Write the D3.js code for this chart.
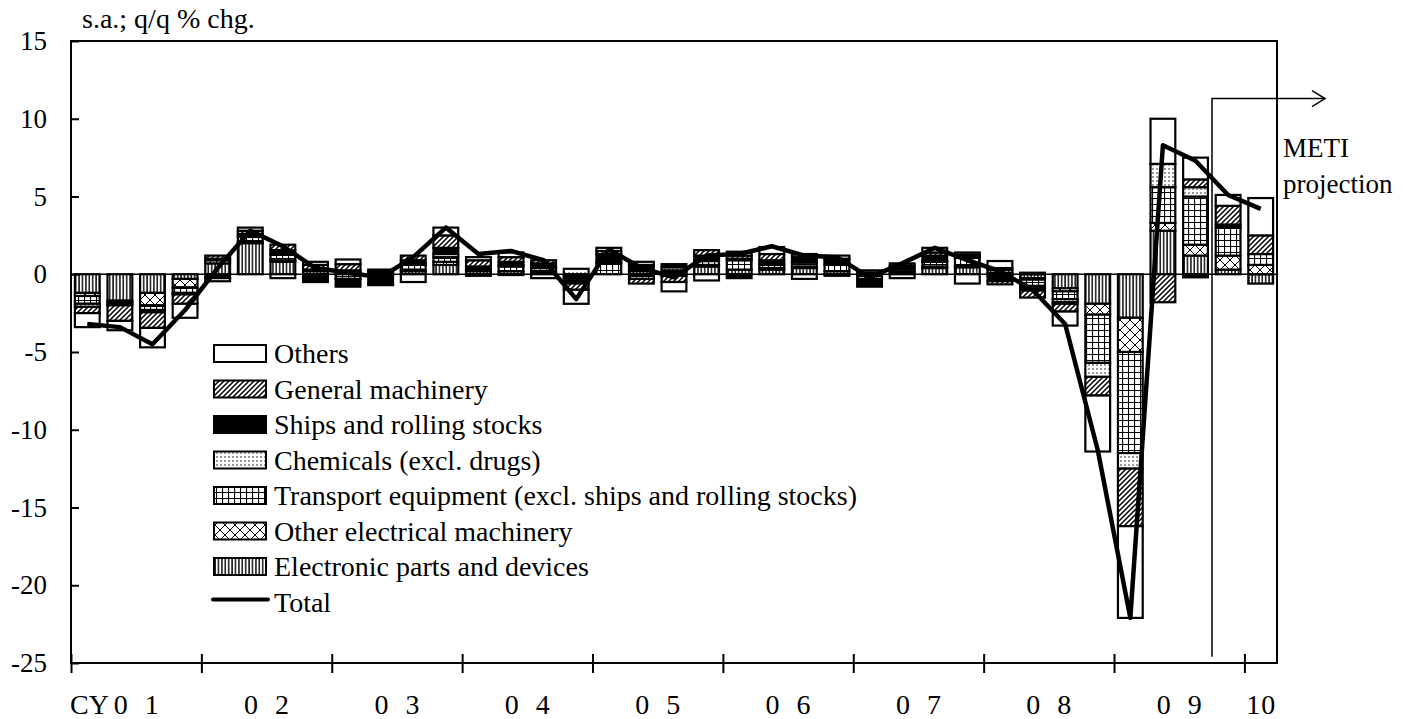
<!DOCTYPE html>
<html><head><meta charset="utf-8">
<script src="https://cdn.jsdelivr.net/npm/d3@7/dist/d3.min.js"></script>
<style>
body{margin:0;background:#fff;}
svg text{font-family:"Liberation Serif","Times New Roman",serif;fill:#000;}
</style></head>
<body><svg id="c" width="1407" height="719"></svg>
<script>
const quarters = ["01Q1","01Q2","01Q3","01Q4","02Q1","02Q2","02Q3","02Q4","03Q1","03Q2","03Q3","03Q4","04Q1","04Q2","04Q3","04Q4","05Q1","05Q2","05Q3","05Q4","06Q1","06Q2","06Q3","06Q4","07Q1","07Q2","07Q3","07Q4","08Q1","08Q2","08Q3","08Q4","09Q1","09Q2","09Q3","09Q4","10Q1"];
const electronic = [-1.2,-1.7,-1.2,-0.3,0.7,2.0,0.8,0.2,0.1,0.1,0.2,0.6,0.2,0.2,0.1,-0.15,0,0.2,0.15,0.5,0.3,0.3,0.4,0.2,-0.1,0.1,0.4,0.45,0.1,-0.25,-0.9,-1.9,-2.8,2.8,1.2,0.3,-0.6];
const otherElec = [-0.2,-0.1,-0.8,-0.55,0,0.1,0.1,0,0,0,0.1,0.2,0,-0.05,0.1,-0.1,0,-0.1,-0.1,0.1,0,0.1,0.1,-0.1,0,0,0.1,0.1,-0.1,-0.1,-0.2,-0.7,-2.2,0.5,0.7,0.9,0.6];
const transport = [-0.5,-0.1,-0.3,-0.35,0.2,0.3,0.35,0.1,-0.3,0.1,0.3,0.3,0.1,0.3,0.2,-0.15,0.7,-0.2,0.1,0.25,0.6,0.2,0.25,0.4,-0.2,0.1,0.3,0.5,0.2,-0.4,-0.5,-3.1,-6.5,2.3,3.1,1.8,0.7];
const chemicals = [-0.2,-0.1,-0.15,-0.1,0.1,0.1,0.1,-0.15,0.15,0,0.1,0.2,-0.1,0.1,0.1,0.35,0.1,0,0.2,0.1,0.1,0.1,0.1,0.1,0,0.15,0.1,0.1,0.1,-0.1,-0.2,-0.9,-1.0,1.5,0.6,0,0];
const ships = [0,0,0,0,-0.25,0.1,0.2,-0.35,-0.5,-0.6,0.2,0.4,0.2,0.2,0.2,-0.2,0.5,0.4,0.2,0.25,-0.25,0.2,0.25,0.2,-0.5,0.2,0.3,0.1,-0.35,-0.2,-0.1,0,0,0,-0.2,0.2,0];
const general = [-0.4,-1.0,-1.0,-0.6,0.2,0.2,0.35,0.3,0.4,0.1,0.3,0.8,0.4,0.3,0.2,-0.4,0.2,-0.3,-0.4,0.35,0.2,0.4,0.2,0.1,0.1,0.15,0.2,0.15,-0.2,-0.45,-0.5,-1.2,-3.7,-1.8,0.5,1.2,1.2];
const others = [-0.9,-0.6,-1.25,-0.9,-0.2,0.2,-0.25,0.2,0.3,-0.1,-0.5,0.5,0.2,0.3,-0.25,-0.9,0.2,0.2,-0.6,-0.4,0.25,0.45,-0.3,0.2,0.15,-0.25,0.3,-0.6,0.45,0.1,-0.9,-3.6,-5.9,2.9,1.4,0.7,2.4];
const total = [-3.2,-3.4,-4.5,-2.3,0.4,2.8,1.8,0.4,0.1,-0.2,1.1,3.0,1.3,1.5,0.9,-1.6,1.6,0.4,-0.2,1.2,1.3,1.8,1.2,1.1,-0.2,0.7,1.7,0.9,0.2,-1.0,-3.2,-11.3,-22.1,8.3,7.3,5.1,4.2];
const yearLabels = ["0\u00a0\u00a01","0\u00a0\u00a02","0\u00a0\u00a03","0\u00a0\u00a04","0\u00a0\u00a05","0\u00a0\u00a06","0\u00a0\u00a07","0\u00a0\u00a08","0\u00a0\u00a09","10"];
const yTicks = [15,10,5,0,-5,-10,-15,-20,-25];
const seriesNames = ["Electronic parts and devices","Other electrical machinery","Transport equipment (excl. ships and rolling stocks)","Chemicals (excl. drugs)","Ships and rolling stocks","General machinery","Others"];
const seriesValues = [electronic, otherElec, transport, chemicals, ships, general, others];
const patternIds = ["pVert","pCross","pGrid","pDots","pSolid","pDiag","pWhite"];

const svg = d3.select("#c");
const L = 71, R = 1277, T = 41, B = 663;
const x = d3.scaleBand().domain(quarters).range([L, R]).paddingInner(0.24).paddingOuter(0.12);
const xq = d3.scaleLinear().domain([0, quarters.length]).range([L, R]);
const y = d3.scaleLinear().domain([-25, 15]).range([B, T]);

// patterns
const defs = svg.append("defs");
function pat(id, w, h, draw) {
  const p = defs.append("pattern").attr("id", id).attr("patternUnits", "userSpaceOnUse").attr("width", w).attr("height", h);
  p.append("rect").attr("width", w).attr("height", h).attr("fill", "#fff");
  draw(p);
}
pat("pWhite", 4, 4, p => {});
pat("pSolid", 4, 4, p => p.append("rect").attr("width", 4).attr("height", 4).attr("fill", "#000"));
pat("pVert", 3.4, 4, p => p.append("line").attr("x1", 0.9).attr("x2", 0.9).attr("y1", 0).attr("y2", 4).attr("stroke", "#000").attr("stroke-width", 1.4));
pat("pDiag", 5, 5, p => p.append("path").attr("d", "M-1,1 L1,-1 M0,5 L5,0 M4,6 L6,4").attr("stroke", "#000").attr("stroke-width", 1.5));
pat("pGrid", 6, 6, p => p.append("path").attr("d", "M0,0.5 H6 M0.5,0 V6").attr("stroke", "#000").attr("stroke-width", 1.2));
pat("pCross", 10, 10, p => p.append("path").attr("d", "M0,0 L10,10 M10,0 L0,10").attr("stroke", "#000").attr("stroke-width", 1));
pat("pDots", 4, 4, p => p.append("circle").attr("cx", 1).attr("cy", 1).attr("r", 0.75).attr("fill", "#000"));

// stack
const rows = quarters.map((q, i) => { const o = {q}; seriesValues.forEach((s, k) => o["s" + k] = s[i]); return o; });
const keys = seriesValues.map((s, k) => "s" + k);
const stacked = d3.stack().keys(keys).offset(d3.stackOffsetDiverging)(rows);

stacked.forEach((layer, k) => {
  svg.append("g").selectAll("rect").data(layer.filter(d => d[1] - d[0] !== 0)).join("rect")
    .attr("x", d => x(d.data.q)).attr("width", x.bandwidth())
    .attr("y", d => y(Math.max(d[0], d[1]))).attr("height", d => Math.abs(y(d[0]) - y(d[1])))
    .attr("fill", "url(#" + patternIds[k] + ")").attr("stroke", "#000").attr("stroke-width", 2.2);
});

// zero line
svg.append("line").attr("x1", L).attr("x2", R).attr("y1", y(0)).attr("y2", y(0)).attr("stroke", "#000").attr("stroke-width", 1.5);

// total line
const line = d3.line().x((d, i) => x(quarters[i]) + x.bandwidth() / 2).y(d => y(d));
svg.append("path").datum(total).attr("d", line).attr("fill", "none").attr("stroke", "#000").attr("stroke-width", 4.5).attr("stroke-linejoin", "round");

// frame
svg.append("rect").attr("x", L).attr("y", T).attr("width", R - L).attr("height", B - T).attr("fill", "none").attr("stroke", "#000").attr("stroke-width", 2);

// y axis
const yAxis = d3.axisLeft(y).tickValues(yTicks).tickSize(-8).tickPadding(24).tickFormat(d => String(d));
const gy = svg.append("g").attr("transform", `translate(${L},0)`).call(yAxis);
gy.select(".domain").remove();
gy.selectAll("line").attr("stroke", "#000").attr("stroke-width", 2);
gy.selectAll("text").attr("font-size", 27).attr("font-family", "Liberation Serif").attr("fill", "#000");

// x ticks at year boundaries
const yearTickPos = d3.range(0, 10).map(i => i * 4);
const xAxisTicks = d3.axisBottom(xq).tickValues(yearTickPos).tickSize(10).tickFormat("");
const gx = svg.append("g").attr("transform", `translate(0,${B})`).call(xAxisTicks);
gx.select(".domain").remove();
gx.selectAll("line").attr("stroke", "#000").attr("stroke-width", 2).attr("y1", -9);

// year labels
const labelPos = d3.range(0, 10).map(i => i < 9 ? i * 4 + 2 : 36.5);
const xAxisLabels = d3.axisBottom(xq).tickValues(labelPos).tickSize(0).tickPadding(31)
  .tickFormat((d, i) => yearLabels[i]);
const gl = svg.append("g").attr("transform", `translate(0,${B})`).call(xAxisLabels);
gl.select(".domain").remove();
gl.selectAll("text").attr("font-size", 28).attr("font-family", "Liberation Serif").attr("fill", "#000")
  .attr("letter-spacing", 1);
svg.append("text").attr("x", 70).attr("y", 714).attr("font-size", 28).text("CY");

// title
svg.append("text").attr("x", 82).attr("y", 28).attr("font-size", 28).text("s.a.; q/q % chg.");

// projection bracket
const px = 1212;
svg.append("path").attr("d", `M${px},${y(-24.6)} V${y(11.3)} H1325`).attr("fill", "none").attr("stroke", "#000").attr("stroke-width", 1.5);
svg.append("path").attr("d", `M1312,${y(11.3) - 8} L1325,${y(11.3)} L1312,${y(11.3) + 8}`).attr("fill", "none").attr("stroke", "#000").attr("stroke-width", 1.5);
svg.append("text").attr("x", 1283).attr("y", 157).attr("font-size", 27).text("METI");
svg.append("text").attr("x", 1283).attr("y", 193).attr("font-size", 27).text("projection");

// legend
const legendOrder = [6, 5, 4, 3, 2, 1, 0];
const lg = svg.append("g");
legendOrder.forEach((k, i) => {
  const cy = 354 + i * 35.5;
  lg.append("rect").attr("x", 214).attr("y", cy - 9).attr("width", 52).attr("height", 17)
    .attr("fill", "url(#" + patternIds[k] + ")").attr("stroke", "#000").attr("stroke-width", 2);
  lg.append("text").attr("x", 274).attr("y", cy + 9).attr("font-size", 28).text(seriesNames[k]);
});
const ty = 354 + 7 * 35.5 - 3;
lg.append("line").attr("x1", 213).attr("x2", 268).attr("y1", ty).attr("y2", ty).attr("stroke", "#000").attr("stroke-width", 4).attr("stroke-linecap", "round");
lg.append("text").attr("x", 274).attr("y", ty + 12).attr("font-size", 28).text("Total");
</script></body></html>
